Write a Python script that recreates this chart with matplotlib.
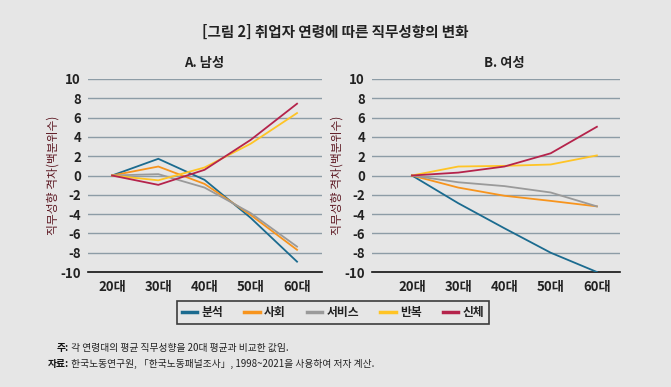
import matplotlib
matplotlib.use("Agg")
import matplotlib.pyplot as plt
from matplotlib.lines import Line2D

plt.rcParams['font.family'] = ['Noto Sans CJK KR', 'DejaVu Sans']

ages = ["20대", "30대", "40대", "50대", "60대"]
series = ["분석", "사회", "서비스", "반복", "신체"]
colors = ["#1b6b8f", "#f7941d", "#9a9a9a", "#ffc425", "#b5234b"]

male = {
    "분석": [0, 1.73, -0.45, -4.4, -8.93],
    "사회": [0, 0.93, -0.87, -4.1, -7.7],
    "서비스": [0, 0.14, -1.25, -3.9, -7.37],
    "반복": [0, -0.5, 0.83, 3.3, 6.47],
    "신체": [0, -0.97, 0.59, 3.7, 7.44],
}
female = {
    "분석": [0, -2.87, -5.47, -8.0, -10.0],
    "사회": [0, -1.25, -2.1, -2.63, -3.2],
    "서비스": [0, -0.7, -1.1, -1.76, -3.2],
    "반복": [0, 0.93, 1.0, 1.14, 2.08],
    "신체": [0, 0.3, 0.93, 2.3, 5.05],
}
yticks = [10, 8, 6, 4, 2, 0, -2, -4, -6, -8, -10]

title = "[그림 2] 취업자 연령에 따른 직무성향의 변화"
panel_titles = ["A. 남성", "B. 여성"]
ylabel = "직무성향 격차(백분위수)"
note1 = ("주:", " 각 연령대의 평균 직무성향을 20대 평균과 비교한 값임.")
note2 = ("자료:", " 한국노동연구원, 「한국노동패널조사」, 1998~2021을 사용하여 저자 계산.")

bg = "#e6e6e6"
W, H = 671, 387
fig = plt.figure(figsize=(W / 100, H / 100), dpi=100, facecolor=bg)

def px_ax(x0, x1, y0, y1):
    return fig.add_axes([x0 / W, 1 - y1 / H, (x1 - x0) / W, (y1 - y0) / H])

ax1 = px_ax(88, 322, 79, 272)
ax2 = px_ax(372, 620, 79, 272)

grid_c = "#8d9ca6"
for ax, data, ptitle, xl in [(ax1, male, panel_titles[0], (-0.52, 4.54)),
                             (ax2, female, panel_titles[1], (-0.865, 4.5))]:
    ax.set_facecolor(bg)
    x = list(range(len(ages)))
    for s, c in zip(series, colors):
        ax.plot(x, data[s], color=c, lw=1.3, solid_joinstyle='miter', zorder=3)
    ax.set_xlim(*xl)
    ax.set_ylim(-10, 10)
    ax.set_yticks(yticks)
    ax.set_yticklabels([str(t) for t in yticks])
    ax.set_xticks(x)
    ax.set_xticklabels(ages)
    for t in yticks:
        if t != -10:
            ax.axhline(t, color=grid_c, lw=1.0, zorder=1)
    for sp in ["top", "right", "left"]:
        ax.spines[sp].set_visible(False)
    ax.spines["bottom"].set_color("#111111")
    ax.spines["bottom"].set_linewidth(1.2)
    ax.tick_params(axis='y', length=0, pad=5, labelsize=9.5, colors="#222222")
    ax.tick_params(axis='x', length=0, pad=6, labelsize=9.5, colors="#222222")
    for lab in ax.get_xticklabels() + ax.get_yticklabels():
        lab.set_fontweight('bold')
    ax.text(2, 1.045, ptitle, transform=ax.get_xaxis_transform(), ha='center', va='bottom',
            fontsize=9.5, fontweight='bold', color="#222222")
    ax.set_ylabel(ylabel, fontsize=8.5, color="#5e1a24", labelpad=1)

fig.text(335 / W, 1 - 32 / H, title, ha='center', va='center', fontsize=10.5,
         fontweight='bold', color="#222222")

handles = [Line2D([], [], color=c, lw=2.5) for c in colors]
leg = fig.legend(handles, series, loc='center', bbox_to_anchor=(333 / W, 1 - 312.5 / H),
                 ncol=5, frameon=True, fancybox=False, handlelength=1.3,
                 handletextpad=0.35, columnspacing=1.8, borderpad=0.4,
                 prop={'size': 8.5, 'weight': 'bold'})
leg.get_frame().set_edgecolor("#111111")
leg.get_frame().set_facecolor(bg)
leg.get_frame().set_linewidth(1.2)
for t in leg.get_texts():
    t.set_color("#222222")

def note(xpx, ypx, head, body):
    t1 = fig.text(xpx / W, 1 - ypx / H, head, fontsize=7, fontweight='bold',
                  va='center', ha='left', color="#111111")
    fig.canvas.draw()
    bb = t1.get_window_extent()
    fig.text(bb.x1 / W, 1 - ypx / H, body, fontsize=7, va='center', ha='left',
             color="#222222")

note(57, 348, *note1)
note(48, 364, *note2)

fig.savefig("out.png", dpi=100, facecolor=bg)
